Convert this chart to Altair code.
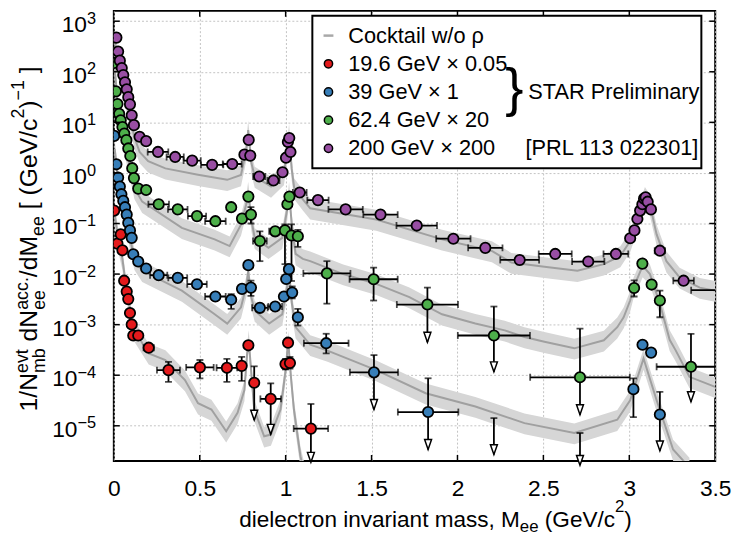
import altair as alt
import pandas as pd

FONT = "Liberation Sans"

# ---------------- data ----------------
SERIES = ["19.6 GeV × 0.05", "39 GeV × 1", "62.4 GeV × 20", "200 GeV × 200"]
COLORS = ["#e41a1c", "#377eb8", "#4daf4a", "#984ea3"]

# rows: (mass, value, x half-width, y low, y high, upper-limit flag)
# y low / y high None -> no vertical bar; for upper limits y low is the arrow tip
RED = [
    (0.002, 0.18, 0, None, None, 0), (0.021, 0.040, 0, None, None, 0),
    (0.040, 0.061, 0, None, None, 0), (0.050, 0.0295, 0, None, None, 0),
    (0.060, 0.0074, 0, None, None, 0), (0.075, 0.0045, 0, None, None, 0),
    (0.084, 0.0032, 0, None, None, 0), (0.094, 0.0017, 0, None, None, 0),
    (0.104, 0.00101, 0, None, None, 0), (0.113, 6.1e-4, 0, None, None, 0),
    (0.142, 6.1e-4, 0, None, None, 0), (0.203, 3.5e-4, 0.03, None, None, 0),
    (0.318, 1.26e-4, 0.067, 7.4e-5, 1.84e-4, 0), (0.501, 1.43e-4, 0.08, 8.7e-5, 2.0e-4, 0),
    (0.658, 1.40e-4, 0.06, 7.4e-5, 2.1e-4, 0), (0.744, 1.53e-4, 0, 7.7e-5, 2.3e-4, 0),
    (0.783, 3.9e-4, 0, None, None, 0), (0.817, 7.1e-5, 0, 1.3e-5, 1.5e-4, 1),
    (0.913, 3.4e-5, 0.06, 6.8e-6, 6.9e-5, 1), (0.999, 1.66e-4, 0, 1.3e-4, 2.1e-4, 0),
    (1.014, 4.4e-4, 0, None, None, 0), (1.025, 1.75e-4, 0, 1.35e-4, 2.3e-4, 0),
    (1.147, 8.8e-6, 0.1, 1.9e-6, 2.7e-5, 1),
]
BLUE = [
    (0.002, 5.4, 0, None, None, 0), (0.015, 1.48, 0, None, None, 0),
    (0.025, 0.81, 0, None, None, 0), (0.035, 0.54, 0, None, None, 0),
    (0.044, 0.38, 0, None, None, 0), (0.055, 0.28, 0, None, None, 0),
    (0.065, 0.21, 0, None, None, 0), (0.075, 0.15, 0, None, None, 0),
    (0.084, 0.103, 0, None, None, 0), (0.094, 0.073, 0, None, None, 0),
    (0.104, 0.052, 0, None, None, 0), (0.113, 0.0246, 0, None, None, 0),
    (0.142, 0.0177, 0, None, None, 0), (0.188, 0.0129, 0, None, None, 0),
    (0.261, 0.0095, 0.05, None, None, 0), (0.372, 0.0084, 0.055, None, None, 0),
    (0.484, 0.0063, 0.057, None, None, 0), (0.591, 0.0036, 0.06, None, None, 0),
    (0.683, 0.0031, 0, 0.00205, 0.0040, 0), (0.746, 0.0051, 0, None, None, 0),
    (0.783, 0.015, 0, None, None, 0), (0.798, 0.0054, 0, 0.0037, 0.0074, 0),
    (0.850, 0.00215, 0.045, None, None, 0), (0.939, 0.00228, 0.04, None, None, 0),
    (0.990, 0.0036, 0, None, None, 0), (1.003, 0.0080, 0, None, None, 0),
    (1.019, 0.0125, 0, None, None, 0), (1.038, 0.0043, 0, 0.0033, 0.0057, 0),
    (1.071, 0.0014, 0, 9.6e-4, 0.00205, 0), (1.236, 4.3e-4, 0.13, 2.7e-4, 6.6e-4, 0),
    (1.514, 1.14e-4, 0.14, 2.1e-5, 2.5e-4, 1), (1.829, 1.87e-5, 0.176, 3.4e-6, 8.7e-5, 1),
    (2.212, 1.0e-6, 0, 2.7e-6, 1.42e-5, 1), (2.713, 1.0e-6, 0, 1.65e-6, 7.2e-6, 1),
    (3.024, 5.3e-5, 0, 1.48e-5, 8.7e-5, 0), (3.077, 4.0e-4, 0, None, None, 0),
    (3.127, 2.8e-4, 0, None, None, 0), (3.178, 1.67e-5, 0, 3.2e-6, 4.7e-5, 1),
]
GREEN = [
    (0.002, 149, 0, None, None, 0), (0.012, 41, 0, None, None, 0),
    (0.021, 23, 0, None, None, 0), (0.031, 14.8, 0, None, None, 0),
    (0.040, 11, 0, None, None, 0), (0.050, 8.1, 0, None, None, 0),
    (0.061, 6.0, 0, None, None, 0), (0.073, 4.45, 0, None, None, 0),
    (0.084, 3.05, 0, None, None, 0), (0.096, 2.16, 0, None, None, 0),
    (0.107, 1.24, 0, None, None, 0), (0.117, 0.79, 0, None, None, 0),
    (0.142, 0.49, 0, None, None, 0), (0.188, 0.46, 0, None, None, 0),
    (0.261, 0.24, 0.06, None, None, 0), (0.372, 0.19, 0.057, None, None, 0),
    (0.484, 0.14, 0.053, None, None, 0), (0.591, 0.111, 0.06, 0.092, 0.13, 0),
    (0.683, 0.21, 0, None, None, 0), (0.746, 0.125, 0, 0.105, 0.15, 0),
    (0.783, 0.34, 0, None, None, 0), (0.798, 0.15, 0, 0.10, 0.21, 0),
    (0.850, 0.045, 0.04, 0.018, 0.07, 0), (0.939, 0.07, 0.035, None, None, 0),
    (0.996, 0.073, 0, 0.0157, 0.0955, 0), (1.010, 0.24, 0, None, None, 0),
    (1.022, 0.34, 0, None, None, 0), (1.034, 0.058, 0, 0.0073, 0.096, 0),
    (1.071, 0.056, 0, 0.0345, 0.075, 0), (1.240, 0.0103, 0.137, 0.0026, 0.018, 0),
    (1.512, 0.0079, 0.14, 0.0030, 0.0134, 0), (1.825, 0.0025, 0.178, 4.5e-4, 0.0054, 1),
    (2.212, 6.1e-4, 0.21, 1.17e-4, 0.00228, 1), (2.713, 9.1e-5, 0.29, 1.66e-5, 8.3e-4, 1),
    (3.028, 0.0053, 0, 0.0036, 0.0075, 0), (3.076, 0.0161, 0, None, None, 0),
    (3.130, 0.0062, 0, None, None, 0), (3.178, 0.0030, 0, 0.0014, 0.0047, 0),
    (3.359, 1.47e-4, 0.2, 3.0e-5, 6.6e-4, 1),
]
PURPLE = [
    (0.015, 474, 0, None, None, 0), (0.025, 251, 0, None, None, 0),
    (0.035, 166, 0, None, None, 0), (0.046, 119, 0, None, None, 0),
    (0.055, 86, 0, None, None, 0), (0.065, 62, 0, None, None, 0),
    (0.075, 45, 0, None, None, 0), (0.084, 31.5, 0, None, None, 0),
    (0.094, 22.7, 0, None, None, 0), (0.104, 13.8, 0, None, None, 0),
    (0.117, 8.8, 0, None, None, 0), (0.150, 5.2, 0, None, None, 0),
    (0.188, 4.25, 0, None, None, 0), (0.257, 2.6, 0.06, None, None, 0),
    (0.357, 2.07, 0.05, None, None, 0), (0.456, 1.75, 0.05, None, None, 0),
    (0.572, 1.44, 0.065, None, None, 0), (0.689, 1.5, 0.055, None, None, 0),
    (0.760, 2.3, 0, None, None, 0), (0.785, 4.5, 0, None, None, 0),
    (0.794, 2.2, 0, None, None, 0), (0.846, 0.85, 0.035, None, None, 0),
    (0.929, 0.71, 0.035, None, None, 0), (0.982, 1.03, 0, None, None, 0),
    (1.002, 2.0, 0, None, None, 0), (1.013, 4.1, 0, None, None, 0),
    (1.021, 4.9, 0, None, None, 0), (1.028, 2.6, 0, None, None, 0),
    (1.082, 0.41, 0.04, None, None, 0), (1.188, 0.29, 0.062, None, None, 0),
    (1.349, 0.19, 0.1, None, None, 0), (1.552, 0.15, 0.1, None, None, 0),
    (1.763, 0.091, 0.118, None, None, 0), (1.976, 0.05, 0.1, None, None, 0),
    (2.162, 0.033, 0.1, None, None, 0), (2.362, 0.019, 0.113, 0.0155, 0.0225, 0),
    (2.569, 0.025, 0.096, None, None, 0), (2.761, 0.0177, 0.094, None, None, 0),
    (2.922, 0.025, 0.072, None, None, 0), (3.005, 0.051, 0, None, None, 0),
    (3.030, 0.073, 0, None, None, 0), (3.047, 0.123, 0, None, None, 0),
    (3.063, 0.18, 0, None, None, 0), (3.076, 0.24, 0, None, None, 0),
    (3.086, 0.31, 0, None, None, 0), (3.095, 0.33, 0, None, None, 0),
    (3.107, 0.27, 0, None, None, 0), (3.126, 0.19, 0, None, None, 0),
    (3.178, 0.029, 0.03, None, None, 0), (3.316, 0.0074, 0.06, 0.0062, 0.0088, 0),
    (3.600, 0.0048, 0.24, None, None, 0),
]

# cocktail (w/o rho) central lines
CK19_X = [0.005, 0.03, 0.05, 0.07, 0.09, 0.107, 0.203, 0.3, 0.414, 0.49, 0.568, 0.654, 0.72,
          0.76, 0.775, 0.785, 0.817, 0.875, 0.914, 0.97, 1.0, 1.015, 1.03, 1.048, 1.086, 1.12]
CK19_Y = [0.15, 0.04, 0.02, 0.006, 0.0025, 9e-4, 2.7e-4, 2e-4, 8e-5, 2.8e-5, 2.1e-5, 7.8e-6, 1.8e-5,
          5.1e-5, 2.5e-4, 5e-4, 2.1e-5, 6.2e-6, 6.7e-6, 2.1e-5, 1.26e-4, 4.9e-4, 1e-4, 2.1e-5, 2.5e-6, 8e-7]
CK39_X = [0.005, 0.03, 0.06, 0.09, 0.12, 0.165, 0.396, 0.587, 0.66, 0.74, 0.772, 0.782, 0.8, 0.82,
          0.904, 0.98, 1.01, 1.02, 1.035, 1.058, 1.143, 1.24, 1.527, 1.815, 2.104, 2.39, 2.68, 2.93,
          3.005, 3.083, 3.159, 3.255, 3.35]
CK39_Y = [3, 0.5, 0.2, 0.06, 0.02, 0.0116, 0.0047, 0.0016, 0.00105, 0.0022, 0.006, 0.0116, 0.0035,
          0.0019, 0.00105, 0.0016, 0.006, 0.0116, 0.0028, 8.9e-4, 4e-4, 3.1e-4, 1.26e-4, 4.4e-5, 2.4e-5,
          1.13e-5, 7.2e-6, 1.32e-5, 3.2e-5, 2.14e-4, 3.2e-5, 3.4e-6, 1.5e-6]
CK62_X = [0.005, 0.03, 0.06, 0.09, 0.12, 0.165, 0.396, 0.587, 0.674, 0.74, 0.772, 0.782, 0.8, 0.82,
          0.9, 0.98, 1.01, 1.02, 1.035, 1.058, 1.1, 1.143, 1.335, 1.527, 1.72, 1.91, 2.104, 2.275,
          2.39, 2.506, 2.68, 2.852, 2.93, 2.967, 3.005, 3.024, 3.078, 3.12, 3.178, 3.235, 3.27, 3.35, 3.5]
CK62_Y = [120, 12, 4, 1.5, 0.5, 0.27, 0.082, 0.0486, 0.0358, 0.095, 0.25, 0.43, 0.12, 0.052, 0.033,
          0.052, 0.2, 0.43, 0.1, 0.025, 0.02, 0.018, 0.01, 0.0064, 0.0035, 0.0016, 0.00105, 7.7e-4,
          5.7e-4, 4.6e-4, 3.4e-4, 4.9e-4, 8.9e-4, 0.0014, 0.003, 0.0054, 0.0145, 0.01, 0.0026, 5e-4,
          3.1e-4, 9.3e-5, 5.9e-5]
CK200_X = [0.005, 0.03, 0.06, 0.09, 0.12, 0.15, 0.2, 0.3, 0.49, 0.66, 0.74, 0.772, 0.782, 0.8, 0.82,
           0.915, 0.99, 1.01, 1.02, 1.035, 1.05, 1.1, 1.143, 1.527, 1.91, 2.2, 2.314, 2.506, 2.698,
           2.852, 2.948, 3.005, 3.063, 3.091, 3.12, 3.159, 3.216, 3.293, 3.41, 3.5]
CK200_Y = [400, 150, 45, 14, 5, 2.6, 1.7, 1.23, 0.92, 0.73, 0.91, 3.0, 7.0, 1.6, 0.85, 0.54, 0.95,
           3.0, 6.0, 1.2, 0.5, 0.3, 0.2, 0.12, 0.0485, 0.0286, 0.0169, 0.0139, 0.0116, 0.0157, 0.0228,
           0.045, 0.175, 0.34, 0.236, 0.061, 0.018, 0.0086, 0.0054, 0.0047]
BAND_UP, BAND_DOWN = 1.55, 0.6   # relative width of the systematic band

X_TICKS = [0, 0.5, 1, 1.5, 2, 2.5, 3, 3.5]
Y_DECADES = list(range(-5, 4))

# ---------------- tables ----------------
rows = []
for name, data in zip(SERIES, [RED, BLUE, GREEN, PURPLE]):
    for (x, y, xe, ylo, yhi, lim) in data:
        rows.append(dict(s=name, x=x, y=y, xe=xe, xlo=x - xe, xhi=x + xe,
                         ylo=y if ylo is None else ylo, yhi=y if yhi is None else yhi,
                         hasy=ylo is not None, lim=lim))
pts = pd.DataFrame(rows)

ck_rows = []
for name, xs, ys in zip(SERIES, [CK19_X, CK39_X, CK62_X, CK200_X], [CK19_Y, CK39_Y, CK62_Y, CK200_Y]):
    for x, y in zip(xs, ys):
        ck_rows.append(dict(s=name, x=x, y=y, lo=y * BAND_DOWN, hi=y * BAND_UP))
ck = pd.DataFrame(ck_rows)

# ---------------- scales / axes ----------------
W, H = 608, 455
GRID = dict(gridColor="#c2c2c2", gridDash=[2, 2], gridWidth=1)
XS = alt.Scale(domain=[0, 3.5], nice=False, zero=False)
YS = alt.Scale(type="log", domain=[2.02e-6, 1.6e3], nice=False)
XAX = alt.Axis(values=X_TICKS, format=".1~f", title=None, grid=True, ticks=False, tickSize=0,
               domain=False, labelFontSize=23, labelFont=FONT, labelColor="black",
               labelPadding=35, labelBaseline="alphabetic", labelFlush=False,
               labelOverlap=False, **GRID)
YAX = alt.Axis(values=[10.0 ** e for e in Y_DECADES], labels=False, ticks=False, tickSize=0,
               domain=False, title=None, grid=True, **GRID)


def X(f):
    return alt.X(f, type="quantitative", scale=XS, axis=XAX)


def Y(f):
    return alt.Y(f, type="quantitative", scale=YS, axis=YAX)


layers = []
layers.append(alt.Chart(ck).mark_area(color="#d6d6d6", clip=True)
              .encode(x=X("x"), y=Y("lo"), y2=alt.Y2("hi"), detail="s:N"))
layers.append(alt.Chart(ck).mark_line(color="#a0a0a0", strokeWidth=2, clip=True)
              .encode(x=X("x"), y=Y("y"), detail="s:N"))

BAR = dict(color="black", clip=True)
ey = pts[pts.hasy]
ex = pts[pts.xe > 0]
layers.append(alt.Chart(ey).mark_rule(strokeWidth=1.8, **BAR)
              .encode(x=X("x"), y=Y("ylo"), y2=alt.Y2("yhi")))
layers.append(alt.Chart(ex).mark_rule(strokeWidth=1.8, **BAR)
              .encode(x=X("xlo"), x2=alt.X2("xhi"), y=Y("y")))
layers.append(alt.Chart(ey).mark_tick(orient="horizontal", size=7, thickness=1.8, **BAR)
              .encode(x=X("x"), y=Y("yhi")))
layers.append(alt.Chart(ey[ey.lim == 0]).mark_tick(orient="horizontal", size=7, thickness=1.8, **BAR)
              .encode(x=X("x"), y=Y("ylo")))
layers.append(alt.Chart(ex).mark_tick(orient="vertical", size=7, thickness=1.8, **BAR)
              .encode(x=X("xlo"), y=Y("y")))
layers.append(alt.Chart(ex).mark_tick(orient="vertical", size=7, thickness=1.8, **BAR)
              .encode(x=X("xhi"), y=Y("y")))
layers.append(alt.Chart(pts[pts.lim == 1])
              .mark_point(shape="M-0.35,-1L0.35,-1L0,0Z", size=400, filled=True, fill="white",
                          stroke="black", strokeWidth=1.5, opacity=1)
              .encode(x=X("x"), y=Y("ylo")))
layers.append(alt.Chart(pts).mark_circle(size=110, stroke="black", strokeWidth=1.8, opacity=1, clip=True)
              .encode(x=X("x"), y=Y("y"),
                      color=alt.Color("s:N", scale=alt.Scale(domain=SERIES, range=COLORS), legend=None)))

# inward frame ticks
xt = pd.DataFrame({"x": X_TICKS[1:-1]})
yt = pd.DataFrame({"v": [10.0 ** e for e in Y_DECADES]})
TK = dict(color="black", strokeWidth=1.5)
layers.append(alt.Chart(xt).mark_rule(**TK).encode(x=X("x"), y=alt.value(H - 6), y2=alt.value(H)))
layers.append(alt.Chart(xt).mark_rule(**TK).encode(x=X("x"), y=alt.value(0), y2=alt.value(6)))
layers.append(alt.Chart(yt).mark_rule(**TK).encode(y=Y("v"), x=alt.value(0), x2=alt.value(6)))
layers.append(alt.Chart(yt).mark_rule(**TK).encode(y=Y("v"), x=alt.value(W - 6), x2=alt.value(W)))

# y tick labels 10^n
yl = pd.DataFrame({"v": [10.0 ** e for e in Y_DECADES],
                   "exp": [("−" + str(-e)) if e < 0 else str(e) for e in Y_DECADES],
                   "neg": [e < 0 for e in Y_DECADES]})
TXT = dict(font=FONT, color="black", baseline="alphabetic")
LAB_R = -18
layers.append(alt.Chart(yl[~yl.neg]).mark_text(text="10", align="right", dy=11, fontSize=23, **TXT)
              .encode(y=Y("v"), x=alt.value(LAB_R - 9.2)))
layers.append(alt.Chart(yl[yl.neg]).mark_text(text="10", align="right", dy=11, fontSize=23, **TXT)
              .encode(y=Y("v"), x=alt.value(LAB_R - 18.8)))
layers.append(alt.Chart(yl).mark_text(align="right", dy=2.7, fontSize=16.5, **TXT)
              .encode(y=Y("v"), x=alt.value(LAB_R), text="exp:N"))

# ---------------- axis titles with sub/superscripts ----------------
AW = {' ': 278, '.': 278, ',': 278, '/': 278, '(': 333, ')': 333, '[': 278, ']': 278, '−': 584,
      '1': 556, '2': 556, 'a': 556, 'b': 556, 'c': 500, 'd': 556, 'e': 556, 'i': 222, 'l': 222,
      'm': 833, 'n': 556, 'o': 556, 'r': 333, 's': 500, 't': 278, 'v': 500, 'G': 778, 'M': 833,
      'N': 722, 'V': 667}


def tw(s, fs):
    return sum(AW.get(c, 556) for c in s) * fs / 1000.0


one = pd.DataFrame({"k": [0]})


def title_layers(groups, start, base, vertical):
    """Place text pieces one after another; leading spaces become explicit gaps
    (SVG would drop them)."""
    out = []
    pos = start
    for grp in groups:
        adv = 0
        for text, fs, shift in grp:
            lead = tw(text[:len(text) - len(text.lstrip(' '))], fs)
            body = text.strip(' ')
            p = pos - lead if vertical else pos + lead
            if vertical:
                enc = dict(x=alt.value(base + shift), y=alt.value(p))
                mk = alt.Chart(one).mark_text(text=body, fontSize=fs, align="left", angle=270, **TXT)
            else:
                enc = dict(x=alt.value(p), y=alt.value(base + shift))
                mk = alt.Chart(one).mark_text(text=body, fontSize=fs, align="left", **TXT)
            out.append(mk.encode(**enc))
            adv = max(adv, tw(text, fs))
        pos = pos - adv if vertical else pos + adv
    return out


MF, SF = 25, 18
Y_TITLE = [
    [("1/N", MF, 0)], [("evt", SF, -9), ("mb", SF, 8)], [(" dN", MF, 0)],
    [("acc.", SF, -9), ("ee", SF, 8)], [("/dM", MF, 0)], [("ee", SF, 7)],
    [(" [ (GeV/c", MF, 0)], [("2", SF, -13)], [(")", MF, 0)], [("−1", SF, -13)], [(" ]", MF, 0)],
]
X_TITLE = [
    [("dielectron invariant mass, M", 22.8, 0)], [("ee", 17, 5)], [(" (GeV/c", 22.8, 0)],
    [("2", 17, -15)], [(")", 22.8, 0)],
]
layers += title_layers(Y_TITLE, 405, -78, True)
layers += title_layers(X_TITLE, 126.7, 521.5, False)

# ---------------- legend ----------------
layers.append(alt.Chart(one).mark_rect(fill="white", stroke="black", strokeWidth=2)
              .encode(x=alt.value(200.7), x2=alt.value(594), y=alt.value(5), y2=alt.value(159)))
ROW0, ROWD = 25, 28.5
layers.append(alt.Chart(one).mark_rule(color="#a8a8a8", strokeWidth=2.5)
              .encode(x=alt.value(212), x2=alt.value(222), y=alt.value(ROW0)))
LEG_TXT = ["Cocktail w/o ρ"] + SERIES
for i, lab in enumerate(LEG_TXT):
    yy = ROW0 + ROWD * i
    if i > 0:
        layers.append(alt.Chart(one).mark_circle(size=70, color=COLORS[i - 1], stroke="black",
                                                 strokeWidth=1.5, opacity=1)
                      .encode(x=alt.value(217), y=alt.value(yy)))
    layers.append(alt.Chart(one).mark_text(text=lab, fontSize=22, align="left", font=FONT,
                                           color="black", baseline="middle")
                  .encode(x=alt.value(237), y=alt.value(yy)))
layers.append(alt.Chart(one).mark_text(text="}", fontSize=55, align="center", font=FONT,
                                       color="black", baseline="middle")
              .encode(x=alt.value(405), y=alt.value(ROW0 + ROWD * 2 - 3)))
layers.append(alt.Chart(one).mark_text(text="STAR Preliminary", fontSize=22, align="left", font=FONT,
                                       color="black", baseline="middle")
              .encode(x=alt.value(419), y=alt.value(ROW0 + ROWD * 2)))
layers.append(alt.Chart(one).mark_text(text="[PRL 113 022301]", fontSize=22, align="right", font=FONT,
                                       color="black", baseline="middle")
              .encode(x=alt.value(591), y=alt.value(ROW0 + ROWD * 4)))

chart = (alt.layer(*layers)
         .properties(width=W, height=H, autosize=alt.AutoSizeParams(type="none"),
                     padding={"left": 107, "top": 0, "right": 19, "bottom": 73})
         .configure(font=FONT)
         .configure_view(stroke="black", strokeWidth=2))

chart.save("out.html", embed_options={"renderer": "svg", "actions": False})
